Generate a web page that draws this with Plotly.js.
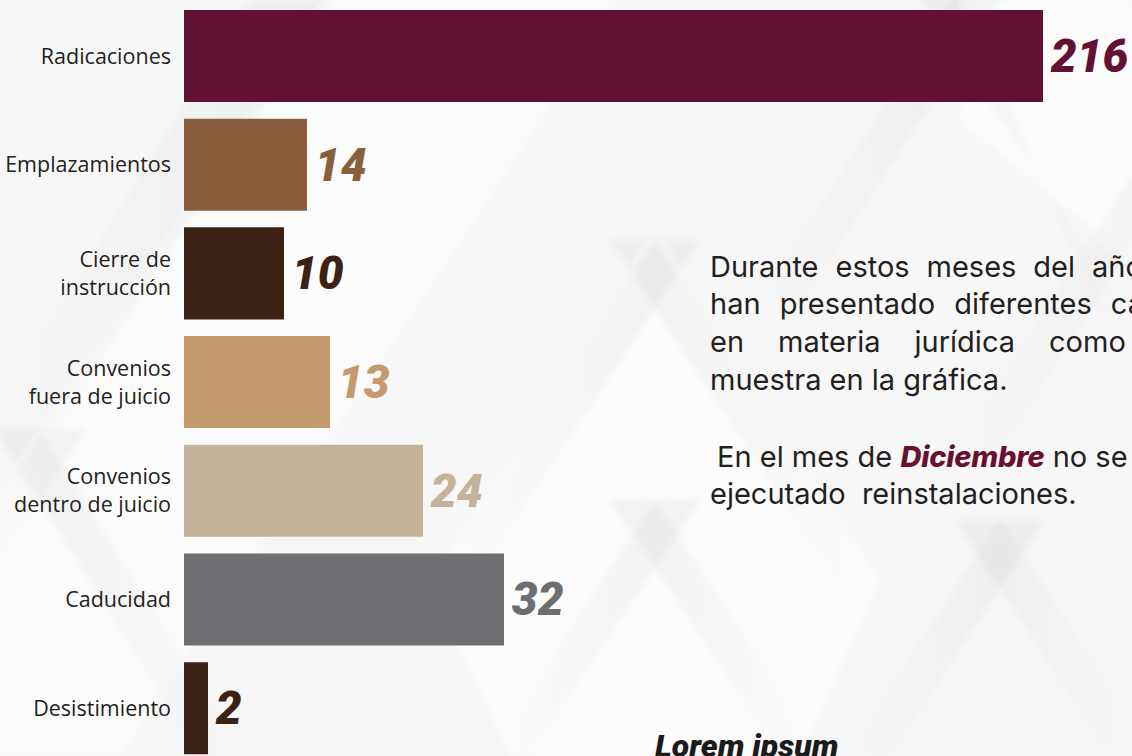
<!DOCTYPE html>
<html>
<head>
<meta charset="utf-8">
<script src="https://cdn.plot.ly/plotly-3.0.1.min.js"></script>
<style>
  html, body { margin:0; padding:0; width:1132px; height:756px; overflow:hidden; background:#f7f7f7; }
  #wrap { position:relative; width:1132px; height:756px; overflow:hidden; }
  #bg { position:absolute; left:0; top:0; }
  #chart { position:absolute; left:0; top:0; width:1132px; height:756px; }
  .para { position:absolute; left:710px; width:482px; font-family:Inter, "Noto Sans", sans-serif; font-size:29px; line-height:37.7px; color:#231f20; }
  .j { text-align:justify; text-align-last:justify; }
  .emph { font-family:Inter, sans-serif; font-weight:800; font-style:italic; color:#6a0f32; letter-spacing:-0.2px; }
  #lorem { position:absolute; left:655px; top:730px; font-family:Roboto, sans-serif; font-weight:900; font-style:italic; font-size:32px; line-height:32px; color:#1c1a1b; letter-spacing:0px; white-space:nowrap; }
</style>
</head>
<body>
<div id="wrap">
  <svg id="bg" width="1132" height="756" viewBox="0 0 1132 756">
    <defs>
      <linearGradient id="gL" x1="0" y1="0" x2="1" y2="0">
        <stop offset="0" stop-color="#000" stop-opacity="0"/>
        <stop offset="1" stop-color="#000" stop-opacity="0.045"/>
      </linearGradient>
      <linearGradient id="gR" x1="0" y1="0" x2="1" y2="0">
        <stop offset="0" stop-color="#000" stop-opacity="0.045"/>
        <stop offset="1" stop-color="#000" stop-opacity="0"/>
      </linearGradient>
      <filter id="soft" x="-10%" y="-10%" width="120%" height="120%">
        <feGaussianBlur stdDeviation="3"/>
      </filter>
    </defs>
    <rect width="1132" height="756" fill="#f7f7f7"/>
    <g filter="url(#soft)">
      <polygon points="330,0 620,0 120,756 0,756 0,500" fill="#fbfbfb"/>
      <polygon points="655,240 880,580 800,756 510,756 430,580" fill="#fcfcfc"/>
      <polygon points="965,0 1132,0 1132,260 960,120" fill="#fcfcfc"/>
      <polygon points="250,0 330,0 0,520 0,400" fill="url(#gL)"/>
      <polygon points="655,240 700,240 470,590 425,590" fill="url(#gL)"/>
      <polygon points="655,240 610,240 840,590 885,590" fill="url(#gR)"/>
      <polygon points="960,-10 1005,-10 790,320 745,320" fill="url(#gL)"/>
      <polygon points="960,-10 915,-10 1132,320 1132,390" fill="url(#gR)"/>
      <polygon points="1180,100 1225,100 1000,450 955,450" fill="url(#gL)"/>
      <polygon points="655,500 700,500 530,756 485,756" fill="url(#gL)"/>
      <polygon points="655,500 610,500 780,756 825,756" fill="url(#gR)"/>
      <polygon points="1000,520 1045,520 890,756 845,756" fill="url(#gL)"/>
      <polygon points="1000,520 955,520 1110,756 1132,756 1132,720" fill="url(#gR)"/>
      <polygon points="40,430 85,430 0,560 0,500" fill="url(#gL)"/>
      <polygon points="40,430 -5,430 200,756 245,756" fill="url(#gR)"/>
    </g>
  </svg>
  <div id="chart"></div>
  <div class="para" style="top:247.6px;">
    <div class="j">Durante estos meses del año se</div>
    <div class="j">han presentado diferentes casos</div>
    <div class="j">en materia jurídica como se</div>
    <div>muestra en la gráfica.</div>
  </div>
  <div class="para" style="top:437.6px; width:600px;">
    <div style="padding-left:7px; white-space:nowrap;">En el mes de <span class="emph">Diciembre</span> no se han</div>
    <div style="white-space:nowrap;">ejecutado&nbsp; reinstalaciones.</div>
  </div>
  <div id="lorem">Lorem ipsum</div>
</div>
<script>
// Data
const categories = ['Radicaciones', 'Emplazamientos', 'Cierre de<br>instrucción', 'Convenios<br>fuera de juicio', 'Convenios<br>dentro de juicio', 'Caducidad', 'Desistimiento'];
const values = [216, 14, 10, 13, 24, 32, 2];
// bar lengths as drawn in the infographic (not proportional to the values)
const drawnLength = [859, 123, 100, 146, 239, 320, 24];
const barColors = ['#631132', '#8a5e3c', '#3c2215', '#c49a6c', '#c4b39a', '#6d6e72', '#3c2215'];

const trace = {
  type: 'bar',
  orientation: 'h',
  y: categories,
  x: drawnLength,
  text: values.map(v => '\u200A' + v),
  textposition: 'outside',
  constraintext: 'none',
  cliponaxis: false,
  textfont: { family: 'Roboto, sans-serif', size: 46, weight: 900, style: 'italic', color: barColors },
  marker: { color: barColors, line: { width: 0 } },
  hoverinfo: 'skip'
};

const layout = {
  width: 1132,
  height: 756,
  margin: { l: 184, r: 0, t: 0, b: 0, pad: 0 },
  paper_bgcolor: 'rgba(0,0,0,0)',
  plot_bgcolor: 'rgba(0,0,0,0)',
  bargap: 0.153,
  showlegend: false,
  xaxis: { range: [0, 948], visible: false, fixedrange: true },
  yaxis: {
    type: 'category',
    range: [6.44, -0.515],
    showgrid: false, zeroline: false, showline: false,
    ticks: '', ticklabelstandoff: 12,
    tickfont: { family: '"Open Sans", sans-serif', size: 21.5, color: '#231f20' },
    fixedrange: true
  },
  font: { family: '"Open Sans", sans-serif' }
};

Plotly.newPlot('chart', [trace], layout, { staticPlot: true, displayModeBar: false });
</script>
</body>
</html>
